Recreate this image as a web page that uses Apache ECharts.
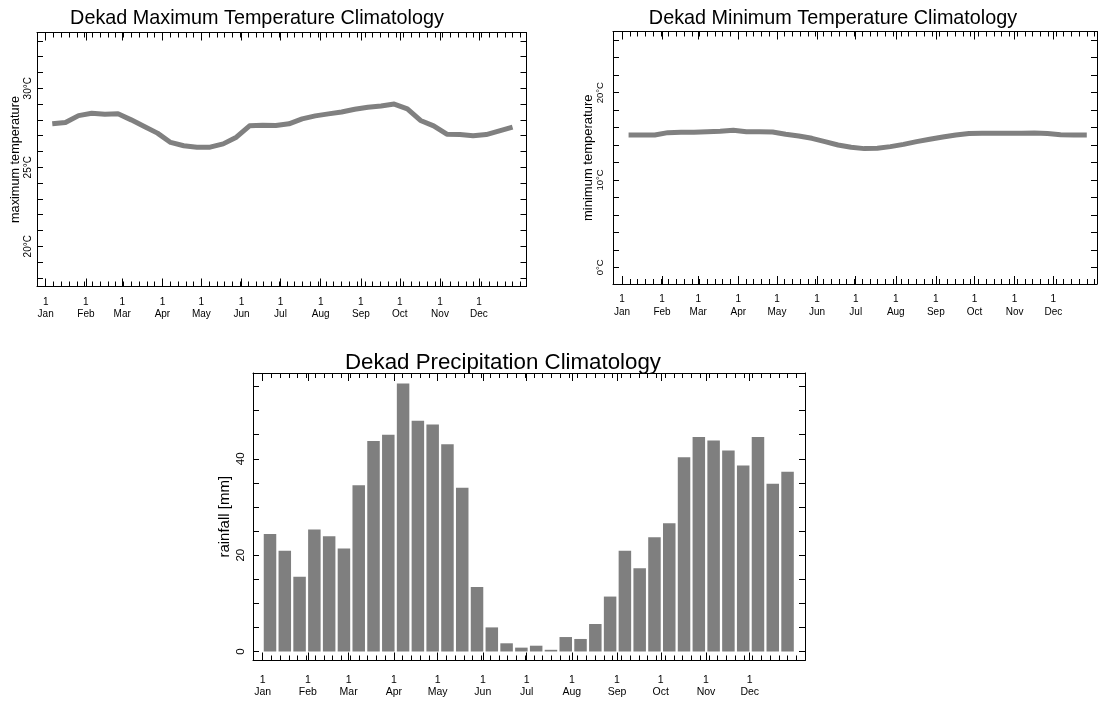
<!DOCTYPE html>
<html>
<head>
<meta charset="utf-8">
<title>Dekad Climatology</title>
<script src="https://cdn.jsdelivr.net/npm/echarts@6/dist/echarts.min.js"></script>
<style>
  html, body { margin: 0; padding: 0; background: #fff; }
  #chart { width: 1108px; height: 702px; }
</style>
</head>
<body>
<div id="chart"></div>
<script>
'use strict';

// month labels, placed at the first day of each month
var monthNames = ['Jan', 'Feb', 'Mar', 'Apr', 'May', 'Jun', 'Jul', 'Aug', 'Sep', 'Oct', 'Nov', 'Dec'];
var monthStartDays = [0, 31, 59, 90, 120, 151, 181, 212, 243, 273, 304, 334];

// dekad climatology (36 dekads, Jan 1 .. Dec 3)
var maxTemp = [27.75, 27.83, 28.27, 28.42, 28.36, 28.38, 28.0, 27.58, 27.16, 26.57, 26.36, 26.27,
               26.27, 26.48, 26.9, 27.62, 27.66, 27.64, 27.75, 28.06, 28.25, 28.38, 28.5, 28.67,
               28.8, 28.88, 29.0, 28.7, 27.96, 27.62, 27.09, 27.07, 26.99, 27.07, 27.3, 27.54];
var minTemp = [15.15, 15.15, 15.15, 15.42, 15.46, 15.46, 15.53, 15.57, 15.69, 15.53, 15.53, 15.5,
               15.23, 15.04, 14.77, 14.39, 14.0, 13.74, 13.59, 13.63, 13.82, 14.08, 14.39, 14.66,
               14.92, 15.15, 15.31, 15.34, 15.34, 15.34, 15.34, 15.38, 15.31, 15.19, 15.15, 15.15];
var rainfall = [24.4, 20.9, 15.5, 25.3, 23.9, 21.4, 34.5, 43.7, 45.0, 55.6, 47.9, 47.1,
                43.0, 34.0, 13.4, 5.0, 1.7, 0.8, 1.2, 0.35, 3.0, 2.6, 5.7, 11.4,
                20.9, 17.3, 23.7, 26.6, 40.3, 44.5, 43.8, 41.7, 38.6, 44.5, 34.8, 37.3];

// y axis ticks and labels
var maxTempTicks = [18, 19, 20, 21, 22, 23, 24, 25, 26, 27, 28, 29, 30, 31, 32, 33];
var maxTempLabels = [20, 25, 30];
var minTempTicks = [0, 2, 4, 6, 8, 10, 12, 14, 16, 18, 20, 22, 24, 26];
var minTempLabels = [0, 10, 20];
var rainTicks = [0, 5, 10, 15, 20, 25, 30, 35, 40, 45, 50, 55];
var rainLabels = [0, 20, 40];

var FONT = '"Liberation Sans", Arial, Helvetica, sans-serif';
var DAYS_PER_DEKAD = 365 / 36;

// x axis runs in dekad units; month ticks and the 6-day minor ticks are converted
var monthPos = monthStartDays.map(function (d) { return d / DAYS_PER_DEKAD; });
var minorPos = [];
for (var d = 0; d <= 366; d += 6) minorPos.push(d / DAYS_PER_DEKAD);

function monthLabel(v) {
    for (var i = 0; i < monthPos.length; i++) {
        if (Math.abs(monthPos[i] - v) < 1e-6) return '1\n' + monthNames[i];
    }
    return '';
}

var panels = [
    { grid: { left: 37, top: 32.5, width: 489.5, height: 254 }, xMin: -0.66, xMax: 36.56,
      yMin: 17.45, yMax: 33.53, ticks: maxTempTicks, labels: maxTempLabels, unit: '°C',
      name: 'maximum temperature', nameSize: 12.7, nameGap: 15, labelSize: 10, labelMargin: 4,
      xLabelSize: 10, xLabelMargin: 9, title: 'Dekad Maximum Temperature Climatology',
      titleX: 257, titleY: 18.3, titleSize: 19.8 },
    { grid: { left: 613, top: 31.5, width: 484, height: 252.5 }, xMin: -0.69, xMax: 36.28,
      yMin: -1.91, yMax: 27, ticks: minTempTicks, labels: minTempLabels, unit: '°C',
      name: 'minimum temperature', nameSize: 13, nameGap: 15.5, labelSize: 9.5, labelMargin: 7.5,
      xLabelSize: 10, xLabelMargin: 9, title: 'Dekad Minimum Temperature Climatology',
      titleX: 833, titleY: 18.3, titleSize: 19.8 },
    { grid: { left: 253, top: 373, width: 552, height: 287.5 }, xMin: -0.65, xMax: 36.68,
      yMin: -1.87, yMax: 57.8, ticks: rainTicks, labels: rainLabels, unit: '',
      name: 'rainfall [mm]', nameSize: 15, nameGap: 21, labelSize: 11.5, labelMargin: 6,
      xLabelSize: 10.5, xLabelMargin: 13, title: 'Dekad Precipitation Climatology',
      titleX: 503, titleY: 362.5, titleSize: 22.3 }
];

var black = { color: '#000', width: 1 };

function xAxisOf(g, p, position, ticks, len, withLine, withLabels) {
    return {
        gridIndex: g, type: 'value', position: position, min: p.xMin, max: p.xMax,
        axisLine: { show: withLine, onZero: false, lineStyle: black },
        axisTick: { show: true, inside: true, length: len, customValues: ticks, lineStyle: black },
        axisLabel: {
            show: withLabels, customValues: monthPos, formatter: monthLabel,
            color: '#000', fontFamily: FONT, fontSize: p.xLabelSize, lineHeight: 12.7,
            margin: p.xLabelMargin
        },
        splitLine: { show: false }
    };
}

function yAxisOf(g, p, position, withLabels) {
    var axis = {
        gridIndex: g, type: 'value', position: position, min: p.yMin, max: p.yMax,
        axisLine: { show: true, onZero: false, lineStyle: black },
        axisTick: { show: true, inside: true, length: 6, customValues: p.ticks, lineStyle: black },
        axisLabel: { show: false },
        splitLine: { show: false }
    };
    if (withLabels) {
        axis.axisLabel = {
            show: true, customValues: p.labels, rotate: 90, align: 'center', verticalAlign: 'bottom',
            margin: p.labelMargin, color: '#000', fontFamily: FONT, fontSize: p.labelSize,
            formatter: function (v) { return v + p.unit; }
        };
        axis.name = p.name;
        axis.nameLocation = 'middle';
        axis.nameGap = p.nameGap;
        axis.nameTextStyle = { color: '#000', fontFamily: FONT, fontSize: p.nameSize };
    }
    return axis;
}

var grids = [], xAxes = [], yAxes = [], series = [], texts = [];
panels.forEach(function (p, g) {
    grids.push(Object.assign({ show: false, outerBoundsMode: 'none' }, p.grid));

    var xBase = xAxes.length;
    xAxes.push(xAxisOf(g, p, 'bottom', monthPos, 8, true, true));
    xAxes.push(xAxisOf(g, p, 'bottom', minorPos, 5, false, false));
    xAxes.push(xAxisOf(g, p, 'top', monthPos, 8, true, false));
    xAxes.push(xAxisOf(g, p, 'top', minorPos, 5, false, false));

    var yBase = yAxes.length;
    yAxes.push(yAxisOf(g, p, 'left', true));
    yAxes.push(yAxisOf(g, p, 'right', false));

    texts.push({
        type: 'text', x: p.titleX, y: p.titleY, silent: true,
        style: { text: p.title, fill: '#000', font: p.titleSize + 'px ' + FONT,
                 align: 'center', verticalAlign: 'middle' }
    });

    var values = [maxTemp, minTemp, rainfall][g];
    var pts = values.map(function (v, i) { return [i + 0.5, v]; });
    if (g < 2) {
        series.push({
            type: 'line', xAxisIndex: xBase, yAxisIndex: yBase, data: pts,
            symbol: 'none', silent: true,
            lineStyle: { color: '#808080', width: 5, cap: 'butt', join: 'round' }
        });
    } else {
        series.push({
            type: 'bar', xAxisIndex: xBase, yAxisIndex: yBase, data: pts,
            barWidth: 12.5, silent: true,
            itemStyle: { color: '#7f7f7f' }
        });
    }
});

var chart = echarts.init(document.getElementById('chart'), null, { renderer: 'canvas' });
chart.setOption({
    animation: false,
    backgroundColor: '#fff',
    grid: grids,
    xAxis: xAxes,
    yAxis: yAxes,
    series: series,
    graphic: texts
});
</script>
</body>
</html>
